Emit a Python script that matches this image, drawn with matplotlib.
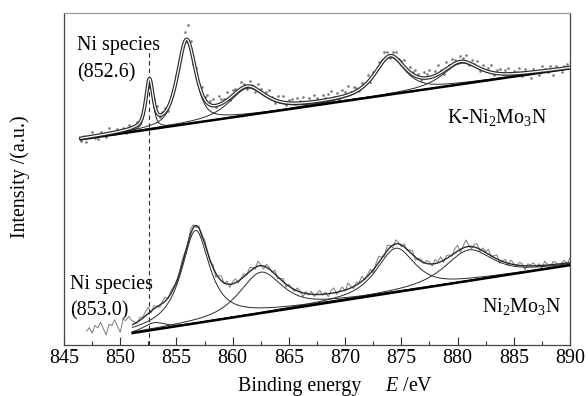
import numpy as np
import matplotlib
matplotlib.use("Agg")
import matplotlib.pyplot as plt
from matplotlib.ticker import MultipleLocator

plt.rcParams['font.family'] = ['Liberation Serif', 'DejaVu Serif']
plt.rcParams['mathtext.fontset'] = 'custom'
plt.rcParams['mathtext.rm'] = 'Liberation Serif'
plt.rcParams['mathtext.it'] = 'Liberation Serif:italic'

# Ni 2p fits: peak centre (eV), height above background, FWHM (eV), Lorentz fraction
k_centers = [852.6, 855.9, 861.3, 874.0, 880.3]
k_heights = [46, 82, 27, 37, 21]
k_fwhm = [0.75, 1.9, 3.8, 3.2, 3.8]
k_eta = [0.6, 0.6, 0.7, 0.7, 0.7]
k_bg_e = [846.5, 890.0]
k_bg_y = [206, 277]

n_centers = [853.0, 856.7, 862.5, 874.5, 881.0]
n_heights = [7, 93, 41, 44, 31]
n_fwhm = [2.2, 3.0, 4.5, 4.0, 5.0]
n_eta = [0.5, 0.9, 0.7, 0.7, 0.7]
n_bg_e = [851.1, 890.0]
n_bg_y = [12, 80]

# measured counts minus fit, 0.25 eV steps
k_raw_start = 846.5
k_resid = [
    -3, 2, -5, 1, 4, -2, -4, 3, 0, -3, 5, 1, -2, 3, -1, 2, -3, 4, 1, -2,
    3, -1, 2, 5, -2, 1, 3, 6, -2, 2, 4, -3, 1, 5, 3, -2, 4, 9, 15, 6,
    -4, 5, -3, 6, 2, 8, 4, 7, -1, 9, 5, 3, 8, -2, 6, 4, 1, 7, 3, -3,
    5, 2, -4, 6, 3, -1, 4, 7, 2, -3, 5, 1, 6, -2, 3, 4, -1, 5, 2, 6,
    -2, 4, 1, 7, 3, -3, 5, 2, 6, 8, 1, 5, -2, 7, 4, 9, 2, 6, 3, -1,
    5, 2, 7, -3, 4, 1, 6, 3, 8, 5, -2, 4, 6, 1, 3, 7, -1, 5, 2, 6,
    3, -2, 6, 4, 8, 1, 5, 9, 3, -3, 7, 2, 6, 4, -1, 5, 3, 7, -2, 4,
    2, 6, -3, 5, 1, 4, 7, -2, 3, 5, 0, 4, 6, -1, 3, 2, 5, -3, 4, 1,
    -6, 3, 1, -4, 5, 2, -2, 4, -5, 3, 1, -3, 2, 4, -1,
]
n_raw_start = 847.0
n_resid = [
    6, 9, 3, 10, 7, 12, 5, -2, 8, 6, 11, 4, -3, 9, 7, 10, 5, 2, -1, 3,
    1, 4, 6, -2, 3, 1, -2, 2, 4, -1, 3, 2, -3, 1, 4, 2, -1, 5, 3, -2,
    2, -3, 4, 1, -2, 3, -4, 2, 5, -1, 3, -3, 2, 4, -2, 1, 3, -1, 4, 2,
    -2, 5, 1, -3, 3, 2, -1, 4, -2, 1, 3, -3, 2, 0, -2, 3, 1, -4, 2, -1,
    3, -2, 1, 4, -1, 2, -3, 3, 5, -2, 1, 4, -1, 6, 2, -2, 3, 1, 5, -1,
    2, 4, -3, 3, 6, 1, -2, 5, 2, -3, 4, 1, -2, 3, -1, 2, 4, -3, 1, 2,
    -1, 3, 2, -2, 4, 1, 5, -2, 3, 2, -1, 4, 6, -3, 2, 7, 1, -2, 3, 4,
    -2, 3, 1, 5, -1, 2, 4, -3, 1, 3, -2, 4, 1, -1, 3, 2, -4, 2, 1, 3,
    -1, 2, -3, 4, 1, -2, 3, 2, -4, 1, 3, -1, 5,
]


def pvoigt(e, c, h, w, eta):
    u = (e - c) / (w / 2)
    lor = 1 / (1 + u ** 2)
    gau = np.exp(-np.log(2) * u ** 2)
    return h * (eta * lor + (1 - eta) * gau)


def linear_bg(e, be, by):
    return np.polyval(np.polyfit(be, by, 1), e)


fig = plt.figure(figsize=(5.88, 3.96), dpi=100)
ax = fig.add_axes([64 / 588, 51 / 396, 506 / 588, 332.5 / 396])

line_c = '#2a2a2a'
dot_c = '#7a7a7a'

# ---- K-Ni2Mo3N (upper) ----
e = np.linspace(k_bg_e[0], k_bg_e[1], 900)
bg = linear_bg(e, k_bg_e, k_bg_y)
comps = [pvoigt(e, *p) for p in zip(k_centers, k_heights, k_fwhm, k_eta)]
env = bg + np.sum(comps, axis=0)

e_raw = k_raw_start + 0.25 * np.arange(len(k_resid))
fit_raw = linear_bg(e_raw, k_bg_e, k_bg_y) + np.sum(
    [pvoigt(e_raw, *p) for p in zip(k_centers, k_heights, k_fwhm, k_eta)], axis=0)
ax.plot(e_raw, fit_raw + np.array(k_resid), ls='none', marker='.', ms=1.8,
        color=dot_c, zorder=1)

for c in comps:
    ax.plot(e, bg + c, color=line_c, lw=0.7, zorder=2)
ax.plot(e, bg, color='black', lw=1.8, zorder=3)
ax.plot(e, env, color=line_c, lw=2.6, zorder=4)
ax.plot(e, env, color='white', lw=0.9, zorder=5)

# ---- Ni2Mo3N (lower) ----
e = np.linspace(n_bg_e[0], n_bg_e[1], 900)
bg = linear_bg(e, n_bg_e, n_bg_y)
comps = [pvoigt(e, *p) for p in zip(n_centers, n_heights, n_fwhm, n_eta)]
env = bg + np.sum(comps, axis=0)

e_raw = n_raw_start + 0.25 * np.arange(len(n_resid))
fit_raw = linear_bg(e_raw, n_bg_e, n_bg_y) + np.sum(
    [pvoigt(e_raw, *p) for p in zip(n_centers, n_heights, n_fwhm, n_eta)], axis=0)
ax.plot(e_raw, fit_raw + np.array(n_resid), color=dot_c, lw=0.7, zorder=1)

for c in comps:
    ax.plot(e, bg + c, color=line_c, lw=0.7, zorder=2)
ax.plot(e, bg, color='black', lw=1.8, zorder=3)
ax.plot(e, env, color=line_c, lw=1.0, zorder=4)

# Ni species marker
ax.plot([852.6, 852.6], [0, 295], color=line_c, lw=0.8, ls=(0, (4, 3)), zorder=2)

fs = 14.4
ax.text(846.2, 295, 'Ni species', fontsize=fs, va='baseline')
ax.text(846.2, 268, '(852.6)', fontsize=fs, va='baseline')
ax.text(879.05, 222, 'K-Ni$_2$Mo$_3$N', fontsize=fs, va='baseline')
ax.text(845.55, 56, 'Ni species', fontsize=fs, va='baseline')
ax.text(845.55, 30, '(853.0)', fontsize=fs, va='baseline')
ax.text(882.2, 33, 'Ni$_2$Mo$_3$N', fontsize=fs, va='baseline')

ax.set_xlim(845, 890)
ax.set_ylim(0, 333)
ax.xaxis.set_major_locator(MultipleLocator(5))
ax.xaxis.set_minor_locator(MultipleLocator(2.5))
ax.tick_params(axis='x', which='both', direction='in', top=False,
               labelsize=fs, pad=3, width=0.8, color='#333333')
ax.tick_params(axis='x', which='major', length=6)
ax.tick_params(axis='x', which='minor', length=3)
ax.set_yticks([])
for side in ['left', 'bottom', 'right']:
    ax.spines[side].set_color('#444444')
    ax.spines[side].set_linewidth(0.9)
ax.spines['top'].set_color('#999999')
ax.spines['top'].set_linewidth(0.9)

fig.text(20 / 588, 1 - 177 / 396, 'Intensity /(a.u.)', fontsize=fs,
         rotation=90, ha='center', va='center')
fig.text(238 / 588, 5 / 396, 'Binding energy', fontsize=fs, va='baseline')
fig.text(385 / 588, 5 / 396, '$E$ /eV', fontsize=fs, va='baseline')

fig.savefig('out.png', dpi=100)
